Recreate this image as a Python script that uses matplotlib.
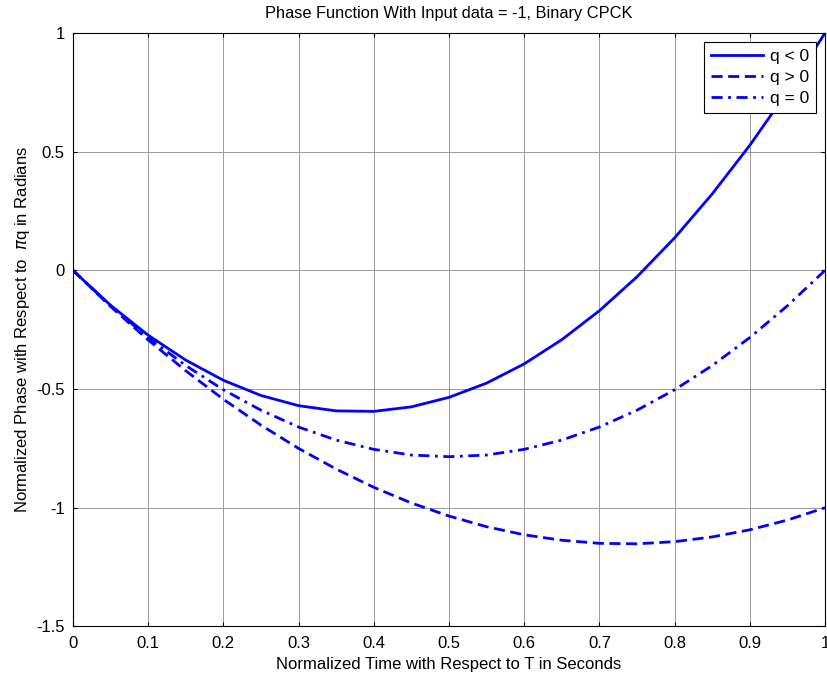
import matplotlib
matplotlib.use("Agg")
import matplotlib.pyplot as plt

# normalized time samples
t = [0.0, 0.05, 0.10, 0.15, 0.20, 0.25, 0.30, 0.35, 0.40, 0.45, 0.50,
     0.55, 0.60, 0.65, 0.70, 0.75, 0.80, 0.85, 0.90, 0.95, 1.0]

# phase (normalized to pi*q)
phase_q_neg = [0.0, -0.147, -0.273, -0.378, -0.463, -0.527, -0.570, -0.592,
               -0.594, -0.575, -0.535, -0.475, -0.394, -0.292, -0.170, -0.027,
               0.137, 0.322, 0.527, 0.753, 1.0]
phase_q_pos = [0.0, -0.152, -0.293, -0.423, -0.543, -0.652, -0.750, -0.837,
               -0.914, -0.980, -1.035, -1.080, -1.114, -1.137, -1.150, -1.152,
               -1.143, -1.123, -1.093, -1.052, -1.0]
phase_q_zero = [0.0, -0.149, -0.283, -0.401, -0.503, -0.589, -0.660, -0.715,
                -0.754, -0.778, -0.785, -0.778, -0.754, -0.715, -0.660, -0.589,
                -0.503, -0.401, -0.283, -0.149, 0.0]

x_ticks = [0, 0.1, 0.2, 0.3, 0.4, 0.5, 0.6, 0.7, 0.8, 0.9, 1]
x_tick_labels = ["0", "0.1", "0.2", "0.3", "0.4", "0.5", "0.6", "0.7", "0.8", "0.9", "1"]
y_ticks = [-1.5, -1, -0.5, 0, 0.5, 1]
y_tick_labels = ["-1.5", "-1", "-0.5", "0", "0.5", "1"]

plt.rcParams["font.family"] = ["Liberation Sans", "DejaVu Sans"]

fig = plt.figure(figsize=(8.27, 6.74), dpi=100)
ax = fig.add_axes([0.0882, 0.0706, 0.9094, 0.8804])

ax.plot(t, phase_q_neg, color="blue", lw=2, ls="-", label="q < 0")
ax.plot(t, phase_q_pos, color="blue", lw=2, ls=(0, (4, 2)), label="q > 0")
ax.plot(t, phase_q_zero, color="blue", lw=2, ls=(0, (4, 2, 1, 2)), label="q = 0")

ax.set_xlim(0, 1)
ax.set_ylim(-1.5, 1)
ax.set_xticks(x_ticks)
ax.set_xticklabels(x_tick_labels)
ax.set_yticks(y_ticks)
ax.set_yticklabels(y_tick_labels)
ax.tick_params(direction="in", top=True, right=True, length=3, width=0.8,
               labelsize=12)
ax.tick_params(axis="x", pad=7)
ax.tick_params(axis="y", pad=6)
ax.grid(True, color="#999999", lw=0.7)
for s in ax.spines.values():
    s.set_linewidth(0.8)

ax.set_title("Phase Function With Input data = -1, Binary CPCK", fontsize=11.8, pad=11)
ax.set_xlabel("Normalized Time with Respect to T in Seconds", fontsize=12, labelpad=4)
ax.set_ylabel("Normalized Phase with Respect to  $\\pi$q in Radians", fontsize=12)
ax.yaxis.set_label_coords(-0.054, 0.5)

leg = ax.legend(loc="upper right", fontsize=12.5, fancybox=False, framealpha=1,
                edgecolor="black", borderaxespad=0.5, handlelength=3.0,
                labelspacing=0.35, borderpad=0.4, handletextpad=0.4)
leg.get_frame().set_linewidth(0.8)

fig.savefig("out.png", dpi=100)
